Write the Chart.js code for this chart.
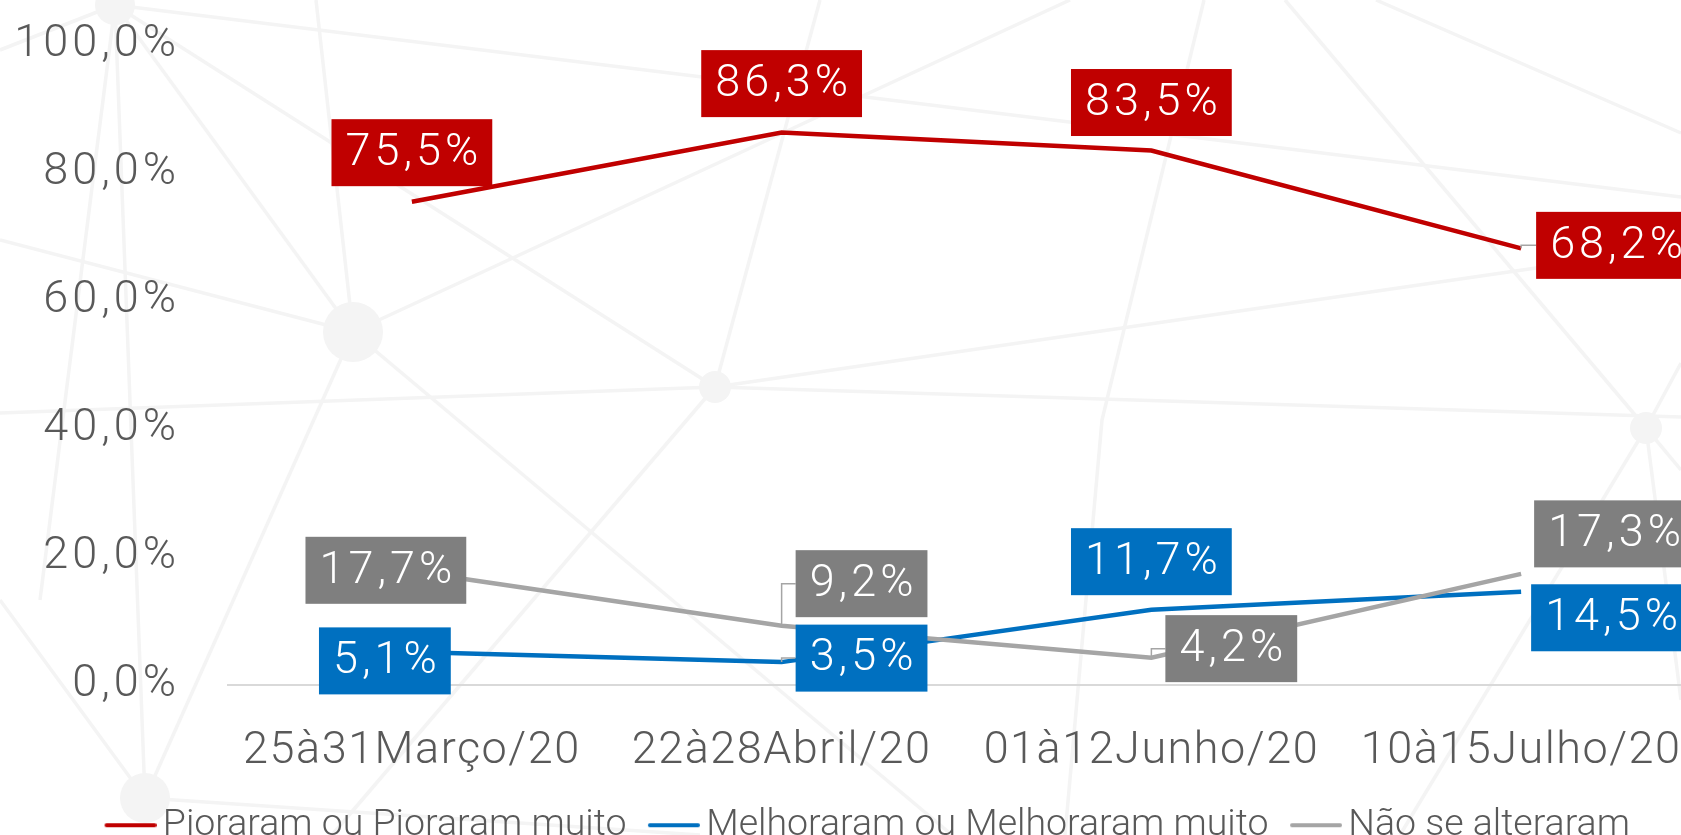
<!DOCTYPE html>
<html><head><meta charset="utf-8">
<script src="https://cdn.jsdelivr.net/npm/chart.js@4/dist/chart.umd.min.js"></script>
<style>
html,body{margin:0;padding:0;overflow:hidden;background:#ffffff;width:1681px;height:835px}
#c{display:block}
</style></head>
<body><canvas id="c" width="1734" height="860"></canvas>
<script>
const categories = ['25à31Março/20', '22à28Abril/20', '01à12Junho/20', '10à15Julho/20'];
const pioraram = [75.5, 86.3, 83.5, 68.2];
const melhoraram = [5.1, 3.5, 11.7, 14.5];
const naoAlteraram = [17.7, 9.2, 4.2, 17.3];
const seriesNames = ['Pioraram ou Pioraram muito', 'Melhoraram ou Melhoraram muito', 'Não se alteraram'];
const yTickValues = [0, 20, 40, 60, 80, 100];

const FONT = 'Roboto';
const TEXT = '#595959';
const seriesColors = ['#C00000', '#0070C0', '#A5A5A5'];
const boxColors = ['#C00000', '#0070C0', '#7F7F7F'];
const fmt = v => v.toFixed(1).replace('.', ',') + '%';

// label box placement relative to each point (style, not data)
const placement = [
  [{a:'c',dx:0,dy:-49},{a:'c',dx:0,dy:-49},{a:'c',dx:0,dy:-48},{a:'l',dx:15,dy:-3,leader:true}],
  [{a:'c',dx:-27,dy:9},{a:'l',dx:14,dy:-4,leader:true},{a:'c',dx:0,dy:-48},{a:'l',dx:10,dy:26}],
  [{a:'c',dx:-26,dy:-1},{a:'l',dx:14,dy:-42,leader:true},{a:'l',dx:14,dy:-9,leader:true},{a:'l',dx:13,dy:-40}]
];

// legend marker images: a short line shifted right so it sits close to its text
function legendMarker(color) {
  const c = document.createElement('canvas');
  c.width = 65; c.height = 6;
  const g = c.getContext('2d');
  g.strokeStyle = color; g.lineWidth = 4; g.lineCap = 'round';
  g.beginPath(); g.moveTo(15, 3); g.lineTo(63, 3); g.stroke();
  return c;
}

// faint decorative network pattern behind the chart (background artwork)
const bgNodes = [[115,5,20],[353,332,30],[715,387,16],[1646,428,16],[145,798,25]];
const bgLines = [
  [[0,50],[115,5]], [[115,5],[1681,197]], [[115,5],[715,387]], [[115,5],[353,332]],
  [[115,5],[145,798]], [[115,5],[40,600]], [[0,240],[353,332]], [[353,332],[1070,0]],
  [[353,332],[316,0]], [[353,332],[145,798]], [[353,332],[952,835]], [[715,387],[820,0]],
  [[715,387],[1681,247]], [[0,413],[715,387]], [[715,387],[1681,417]],
  [[1204,0],[1102,420],[1065,835]], [[1285,0],[1646,428],[1681,470]], [[1376,0],[1681,133]],
  [[1646,428],[1681,363]], [[1646,428],[1400,835]], [[715,387],[332,835]], [[0,600],[145,798]],
  [[145,798],[700,835]], [[1646,428],[1681,700]]
];
const bgPlugin = {
  id: 'bgNetwork',
  beforeDraw(chart) {
    const ctx = chart.ctx;
    ctx.save();
    ctx.fillStyle = '#FFFFFF';
    ctx.fillRect(0, 0, chart.width, chart.height);
    ctx.strokeStyle = '#F4F4F4';
    ctx.fillStyle = '#F4F4F4';
    ctx.lineWidth = 3.5;
    bgLines.forEach(l => {
      ctx.beginPath();
      ctx.moveTo(l[0][0], l[0][1]);
      for (let k = 1; k < l.length; k++) ctx.lineTo(l[k][0], l[k][1]);
      ctx.stroke();
    });
    bgNodes.forEach(n => { ctx.beginPath(); ctx.arc(n[0], n[1], n[2], 0, Math.PI * 2); ctx.fill(); });
    ctx.restore();
  }
};

const labelPlugin = {
  id: 'boxLabels',
  afterDatasetsDraw(chart) {
    const ctx = chart.ctx;
    ctx.save();
    ctx.font = `300 45px ${FONT}`;
    ctx.letterSpacing = '4px';
    ctx.textAlign = 'left';
    ctx.textBaseline = 'middle';
    chart.data.datasets.forEach((ds, di) => {
      const meta = chart.getDatasetMeta(di);
      meta.data.forEach((pt, i) => {
        const txt = fmt(ds.data[i]);
        const pl = placement[di][i];
        const tw = ctx.measureText(txt).width;
        const w = tw + 24, h = 67;
        const cx = pl.a === 'l' ? pt.x + pl.dx + w / 2 : pt.x + pl.dx;
        const cy = pt.y + pl.dy;
        const left = cx - w / 2, top = cy - h / 2;
        if (pl.leader) {
          ctx.strokeStyle = '#A5A5A5';
          ctx.lineWidth = 1.5;
          ctx.beginPath();
          ctx.moveTo(pt.x, pt.y);
          ctx.lineTo(pt.x, cy);
          ctx.lineTo(left, cy);
          ctx.stroke();
        }
        ctx.fillStyle = boxColors[di];
        ctx.fillRect(left, top, w, h);
        ctx.fillStyle = '#FFFFFF';
        ctx.fillText(txt, left + 14, cy + 1);
      });
    });
    ctx.restore();
  }
};

const spacingPlugin = {
  id: 'tickSpacing',
  afterLayout(chart) {
    // centre the legend on the full canvas width
    if (chart.legend) { chart.legend.left = 0; chart.legend.right = chart.width; }
    [['y', '4px'], ['x', '1.5px']].forEach(([id, sp]) => {
      const s = chart.scales[id];
      if (!s._patched) {
        const orig = s.drawLabels.bind(s);
        s.drawLabels = function (area) {
          const c = this.ctx;
          c.save();
          c.letterSpacing = sp;
          orig(area);
          c.restore();
        };
        s._patched = true;
      }
    });
  }
};

new Chart(document.getElementById('c'), {
  type: 'line',
  data: {
    labels: categories,
    datasets: [
      { label: seriesNames[0], data: pioraram, borderColor: seriesColors[0], backgroundColor: seriesColors[0], borderWidth: 4.5, pointRadius: 0, pointStyle: legendMarker(seriesColors[0]), tension: 0, order: 2 },
      { label: seriesNames[1], data: melhoraram, borderColor: seriesColors[1], backgroundColor: seriesColors[1], borderWidth: 4.5, pointRadius: 0, pointStyle: legendMarker(seriesColors[1]), tension: 0, order: 1 },
      { label: seriesNames[2], data: naoAlteraram, borderColor: seriesColors[2], backgroundColor: seriesColors[2], borderWidth: 4.5, pointRadius: 0, pointStyle: legendMarker(seriesColors[2]), tension: 0, order: 0 }
    ]
  },
  options: {
    responsive: false,
    animation: false,
    devicePixelRatio: 1,
    layout: { padding: { top: 45, right: 28, left: 0, bottom: 6 } },
    plugins: {
      tooltip: { enabled: false },
      legend: {
        position: 'bottom',
        labels: {
          font: { family: FONT, size: 37.5, weight: 300 },
          color: TEXT,
          usePointStyle: true,
          pointStyleWidth: 40,
          padding: 21,
          sort: (a, b) => a.datasetIndex - b.datasetIndex
        }
      }
    },
    scales: {
      x: {
        offset: true,
        grid: { display: false, drawTicks: false },
        border: { display: false },
        ticks: { font: { family: FONT, size: 45, weight: 300 }, color: TEXT, padding: 40, maxRotation: 0, autoSkip: false },
        afterFit: s => { s.height = 101; s.paddingTop = 0; s.paddingBottom = 0; }
      },
      y: {
        min: 0, max: 100,
        afterBuildTicks: s => { s.ticks = yTickValues.map(v => ({ value: v })); },
        grid: {
          drawTicks: false,
          lineWidth: 2,
          color: c => (c.tick && c.tick.value === 0) ? '#D9D9D9' : 'rgba(0,0,0,0)'
        },
        border: { display: false },
        ticks: { font: { family: FONT, size: 45, weight: 300 }, color: TEXT, padding: 47, callback: v => fmt(v) },
        afterFit: s => { s.width = 227; s.paddingTop = 0; s.paddingBottom = 0; }
      }
    }
  },
  plugins: [bgPlugin, labelPlugin, spacingPlugin]
});
</script>
</body></html>
